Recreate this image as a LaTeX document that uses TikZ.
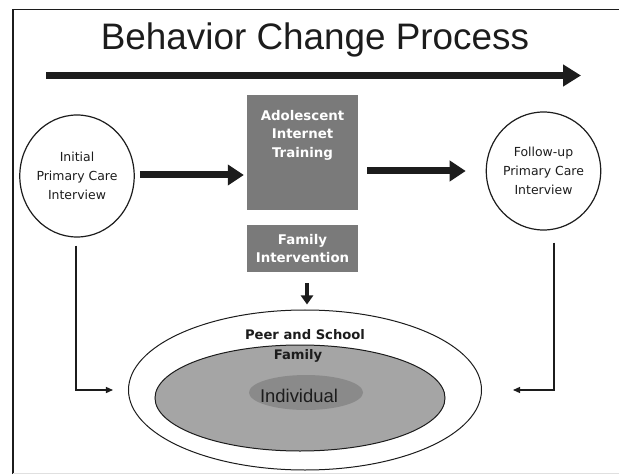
\documentclass[tikz,border=0pt]{standalone}
\usepackage{fontspec}
\setmainfont{Liberation Sans}
\newfontfamily\dv{DejaVu Sans}
\usetikzlibrary{arrows.meta,shapes.geometric}
\definecolor{boxgray}{RGB}{122,122,122}
\definecolor{famgray}{RGB}{165,165,165}
\definecolor{indgray}{RGB}{138,138,138}
\definecolor{ink}{RGB}{28,28,28}
\tikzset{
  stage/.style={ellipse, draw=ink, line width=1.2bp, inner sep=0pt, align=center,
    text=ink, font=\dv\fontsize{12.5}{19}\selectfont},
  grayblock/.style={rectangle, fill=boxgray, inner sep=0pt, align=center,
    text=white, font=\dv\bfseries\fontsize{13.4}{18.5}\selectfont},
  ring/.style={ellipse, draw=ink, line width=1bp, inner sep=0pt},
  ringlabel/.style={text=ink, font=\dv\bfseries\fontsize{13.2}{16}\selectfont, inner sep=0pt},
  bigarrow/.style={draw=ink, line width=7bp, -{Triangle[length=18bp,width=21bp]}},
  flowarrow/.style={draw=ink, line width=7bp, -{Triangle[length=16bp,width=20bp]}},
  downarrow/.style={draw=ink, line width=4bp, -{Triangle[length=9bp,width=12bp]}},
  sidearrow/.style={draw=ink, line width=1.3bp, -{Triangle[length=7bp,width=6bp]}}
}
\begin{document}
\begin{tikzpicture}[x=1bp,y=-1bp]
\useasboundingbox (0,0) rectangle (619,475);
% frame
\draw[ink, line width=1.3bp] (13,474) -- (13,9.5) -- (619,9.5);
\draw[black!12, line width=1bp] (13,473.5) -- (619,473.5);

% title and process arrow
\node[text=ink, font=\fontsize{37}{40}\selectfont, inner sep=0pt] (title) at (315,40) {Behavior Change Process};
\coordinate (procstart) at (46,75.5);
\coordinate (procend) at (581,75.5);
\draw[bigarrow] (procstart) -- (procend);

% interviews
\node[stage, minimum width=108bp, minimum height=122bp] (init) at (77,176)
  {Initial\\Primary Care\\Interview};
\node[stage, minimum width=107bp, minimum height=118bp] (follow) at (543.5,171)
  {Follow-up\\Primary Care\\Interview};

% interventions
\node[grayblock, minimum width=111bp, minimum height=115bp] (training) at (302.5,152.5) {};
\node[grayblock, anchor=north] (traininglabel) at (302.5,110) {Adolescent\\Internet\\Training};
\node[grayblock, minimum width=111bp, minimum height=47bp] (family) at (302.5,248.5)
  {Family\\Intervention};

% nested contexts
\node[ring, fill=white, minimum width=353bp, minimum height=160bp] (outer) at (305,390) {};
\node[ring, fill=famgray, minimum width=290bp, minimum height=106bp] (middle) at (300,398) {};
\node[ellipse, fill=indgray, inner sep=0pt, minimum width=114bp, minimum height=35bp] (inner) at (306,392.5) {};
\node[ringlabel] (peer) at (305,335) {Peer and School};
\node[ringlabel] (fam) at (298,355.5) {Family};
\node[text=ink, font=\fontsize{18.5}{20}\selectfont, inner sep=0pt] (indiv) at (299,396) {Individual};

% connectors
\draw[flowarrow, shorten <=5bp, shorten >=3bp] (init.east |- 0,175) -- (training.west |- 0,175);
\draw[flowarrow, shorten <=9bp, shorten >=20bp] (training.east |- follow) -- (follow.west);
\draw[downarrow, shorten <=11bp, shorten >=5bp] (family.south -| 307,0) -- (outer.north -| 307,0);
\draw[sidearrow, shorten <=8bp, shorten >=15bp] (init.south -| 76,0) |- (outer.west);
\draw[sidearrow, shorten <=12bp, shorten >=31bp] (follow.south -| 554,0) |- (outer.east);
\end{tikzpicture}
\end{document}
